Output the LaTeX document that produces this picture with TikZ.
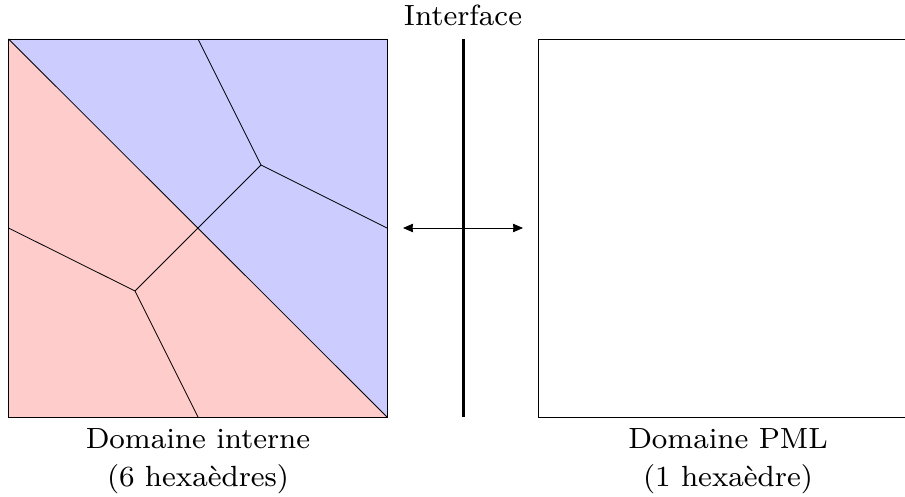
\documentclass[tikz,border=0pt]{standalone}
\usepackage{amsmath,amsfonts,amssymb}
\usepackage{tikz}
\usetikzlibrary{arrows,arrows.meta,positioning}
\usepackage{xcolor}
\definecolor{rougeclair}{RGB}{255,204,204}
\definecolor{bleuclair}{RGB}{204,204,255}
\tikzset{legende/.style={align=center,font=\fontsize{8}{10.4}\selectfont,inner sep=0pt,scale=3.65},
  trait/.style={line width=0.8pt},
  fleche/.style={{Stealth[length=10pt,width=8.5pt,inset=0.5pt]}-{Stealth[length=10pt,width=8.5pt,inset=0.5pt]}}}
\begin{document}
\begin{tikzpicture}[x=1pt,y=-1pt]
\useasboundingbox (0,0) rectangle (905,497);
\coordinate (hg) at (8.5,39);
\coordinate (hd) at (387,39);
\coordinate (bg) at (8.5,417);
\coordinate (bd) at (387,417);
\coordinate (c) at (198,228);
\coordinate (h) at (198,39);
\coordinate (g) at (8.5,228);
\coordinate (d) at (387,228);
\coordinate (b) at (198,417);
\coordinate (p) at (261,165);
\coordinate (q) at (135,291);
\fill [rougeclair] (hg) -- (bd) -- (bg) -- cycle;
\fill [bleuclair] (hg) -- (hd) -- (bd) -- cycle;
\draw [trait] (hg) rectangle (bd);
\draw [trait] (hg) -- (bd);
\draw [trait] (h) -- (p) -- (d);
\draw [trait] (p) -- (c) -- (q);
\draw [trait] (g) -- (q) -- (b);
% interface
\coordinate (ih) at (463,39);
\coordinate (ib) at (463,417);
\draw [line width=3pt] (ih) -- (ib);
\node (interface) at (463,15) [legende] {Interface};
\coordinate (fg) at (403,228);
\coordinate (fd) at (523,228);
\draw [trait,fleche] (fg) -- (fd);
% domaine PML
\coordinate (phg) at (905,39);
\coordinate (pg) at (538.5,39);
\coordinate (pb) at (538.5,417);
\coordinate (pbd) at (905,417);
\draw [trait] (phg) -- (pg) -- (pb) -- (pbd);
\node (interne) at (198,461) [legende] {Domaine interne\\(6 hexaèdres)};
\node (pml) at (728,461) [legende] {Domaine PML\\(1 hexaèdre)};
\end{tikzpicture}
\end{document}
